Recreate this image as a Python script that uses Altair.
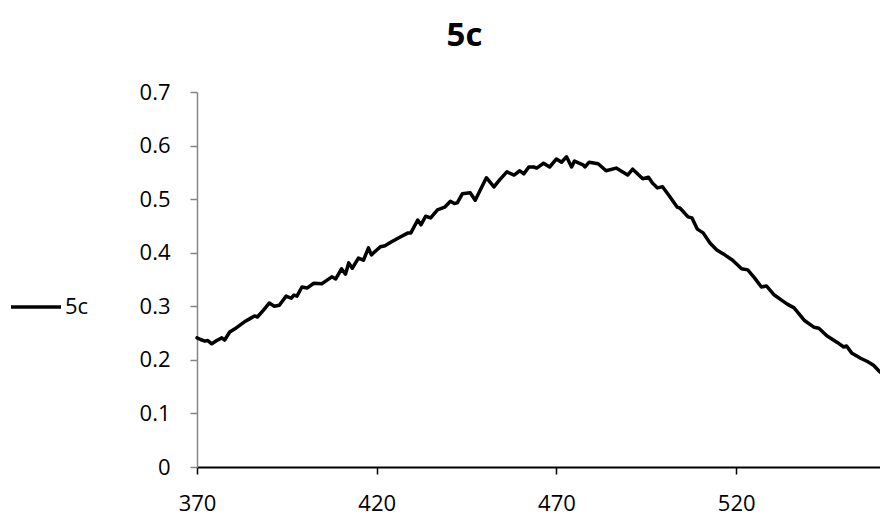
import altair as alt
import pandas as pd

wavelength = [
    370.0, 371.0, 372.2, 373.0, 374.1, 375.5, 376.9, 377.7, 379.1, 381.0,
    383.2, 384.5, 386.0, 386.8, 388.5, 390.1, 391.5, 392.9, 394.8, 396.2,
    397.0, 397.8, 399.2, 400.6, 402.5, 404.7, 406.0, 407.5, 408.6, 410.2,
    411.3, 412.2, 413.2, 414.9, 416.3, 417.7, 418.5, 420.0, 421.0, 422.3,
    424.0, 425.9, 428.7, 429.5, 431.4, 432.3, 433.6, 435.0, 436.9, 438.9,
    440.5, 441.6, 442.4, 443.8, 446.0, 447.4, 448.8, 450.5, 452.6, 454.3,
    456.2, 458.2, 459.8, 460.9, 462.3, 463.7, 464.5, 466.4, 468.1, 470.0,
    471.4, 472.8, 474.2, 475.0, 477.4, 477.9, 479.1, 481.6, 483.8, 486.6,
    489.8, 491.2, 494.0, 495.6, 496.7, 498.1, 499.5, 501.5, 503.6, 504.4,
    506.6, 507.7, 509.2, 510.8, 512.7, 514.6, 516.8, 519.0, 521.5, 523.2,
    525.1, 527.0, 528.4, 530.6, 532.5, 534.2, 536.1, 538.9, 541.6, 543.0,
    545.2, 548.0, 549.9, 550.7, 552.1, 554.6, 556.5, 558.2, 560.0,
]
absorbance = [
    0.241, 0.238, 0.235, 0.236, 0.230, 0.236, 0.241, 0.237, 0.252, 0.260,
    0.271, 0.276, 0.282, 0.280, 0.293, 0.306, 0.300, 0.302, 0.319, 0.315,
    0.321, 0.319, 0.336, 0.334, 0.343, 0.342, 0.348, 0.355, 0.351, 0.370,
    0.360, 0.381, 0.371, 0.390, 0.386, 0.409, 0.396, 0.405, 0.411, 0.413,
    0.420, 0.427, 0.437, 0.437, 0.461, 0.452, 0.468, 0.465, 0.480, 0.485,
    0.496, 0.492, 0.493, 0.510, 0.512, 0.498, 0.517, 0.540, 0.523, 0.537,
    0.551, 0.545, 0.553, 0.547, 0.560, 0.560, 0.558, 0.567, 0.560, 0.575,
    0.569, 0.579, 0.560, 0.571, 0.564, 0.560, 0.569, 0.566, 0.553, 0.558,
    0.545, 0.556, 0.538, 0.541, 0.530, 0.521, 0.523, 0.505, 0.485, 0.483,
    0.467, 0.465, 0.444, 0.437, 0.418, 0.405, 0.396, 0.386, 0.370, 0.368,
    0.353, 0.336, 0.338, 0.321, 0.312, 0.304, 0.297, 0.274, 0.261, 0.259,
    0.245, 0.233, 0.224, 0.226, 0.213, 0.203, 0.197, 0.190, 0.177,
]
series_name = "5c"
x_ticks = [370, 420, 470, 520]
y_ticks = [0, 0.1, 0.2, 0.3, 0.4, 0.5, 0.6, 0.7]

df = pd.DataFrame({"wavelength": wavelength, "absorbance": absorbance, "series": series_name})

FONT = "Open Sans"

chart = alt.Chart(df).mark_line(strokeWidth=3.5, interpolate="linear",
                                strokeJoin="round", strokeCap="round").encode(
    x=alt.X("wavelength:Q",
            scale=alt.Scale(domain=[370, 560], nice=False, zero=False),
            axis=alt.Axis(values=x_ticks, title=None, grid=False,
                          domainColor="#000000", domainWidth=2,
                          tickColor="#000000", tickWidth=1.5, tickSize=7,
                          labelFont=FONT, labelFontSize=22, labelColor="#000000",
                          labelPadding=19, labelFlush=False)),
    y=alt.Y("absorbance:Q",
            scale=alt.Scale(domain=[0, 0.7], nice=False),
            axis=alt.Axis(values=y_ticks, title=None, grid=False,
                          domainColor="#868686", domainWidth=1.5,
                          tickColor="#868686", tickWidth=1.5, tickSize=7,
                          labelFont=FONT, labelFontSize=22, labelColor="#000000",
                          labelPadding=20, labelFlush=False,
                          labelExpr="datum.value == 0 ? '0' : format(datum.value, '.1f')")),
    color=alt.Color("series:N",
                    scale=alt.Scale(domain=[series_name], range=["#000000"]),
                    legend=alt.Legend(title=None, orient="none", legendX=-188, legendY=188,
                                      symbolType="stroke", symbolSize=2500,
                                      symbolStrokeWidth=3.5, labelFont=FONT,
                                      labelFontSize=22, labelColor="#000000",
                                      labelOffset=2)),
).properties(
    width=683,
    height=375,
    title=alt.TitleParams(text="5c", font=FONT, fontSize=33, fontWeight="bold",
                          color="#000000", anchor="middle", dx=-74, offset=28),
    autosize=alt.AutoSizeParams(type="none"),
    padding={"left": 189, "top": 84, "right": 0, "bottom": 50},
).configure_view(stroke=None)

chart.save("out.html", embed_options={"renderer": "svg", "actions": False})
